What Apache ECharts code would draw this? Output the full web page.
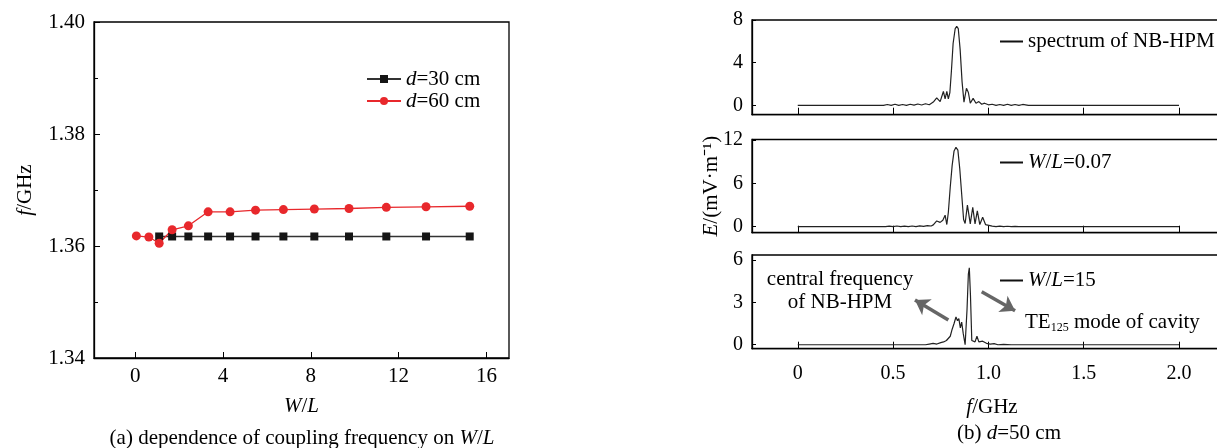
<!DOCTYPE html>
<html>
<head>
<meta charset="utf-8">
<script src="https://cdn.jsdelivr.net/npm/echarts@6/dist/echarts.min.js"></script>
<style>
  html, body { margin: 0; padding: 0; background: #fff; }
  #chart { width: 1217px; height: 448px; }
</style>
</head>
<body>
<div id="chart"></div>
<script>
//(a) coupling frequency vs W/L
var wl30 = [1.09, 1.68, 2.42, 3.32, 4.32, 5.48, 6.75, 8.16, 9.74, 11.44, 13.25, 15.24];
var freq30 = [1.3617, 1.3617, 1.3617, 1.3617, 1.3617, 1.3617, 1.3617, 1.3617, 1.3617, 1.3617, 1.3617, 1.3617];
var wl60 = [0.05, 0.62, 1.09, 1.68, 2.42, 3.32, 4.32, 5.48, 6.75, 8.16, 9.74, 11.44, 13.25, 15.24];
var freq60 = [1.3618, 1.3616, 1.3605, 1.3629, 1.3636, 1.3661, 1.3661, 1.3664, 1.3665, 1.3666, 1.3667, 1.3669, 1.3670, 1.3671];

//(b) spectra, d=50 cm
var fSpec = [0, 0.45, 0.47, 0.49, 0.51, 0.53, 0.55, 0.57, 0.59, 0.61, 0.63, 0.65, 0.67, 0.69, 0.711, 0.729, 0.747, 0.764, 0.773, 0.782, 0.79,
    0.798, 0.806, 0.815, 0.826, 0.834, 0.842, 0.852, 0.862, 0.872, 0.885, 0.895, 0.905, 0.92, 0.935, 0.95, 0.965, 0.98, 1.0,
    1.02, 1.04, 1.06, 1.08, 1.10, 1.12, 1.14, 1.16, 1.18, 1.21, 2.0];
var eSpec = [0, 0, 0.08, 0, 0.1, 0, 0.08, 0, 0.1, 0.02, 0.12, 0.03, 0.15, 0.05, 0.3, 0.7, 0.35, 1.3, 0.6, 1.3, 0.6,
    1.2, 3.2, 5.8, 7.2, 7.4, 7.2, 5.2, 2.2, 0.3, 1.6, 1.2, 0.2, 0.65, 0.2, 0.35, 0.1, 0.2, 0.05,
    0.1, 0, 0.08, 0, 0.1, 0, 0.08, 0, 0.08, 0, 0];

var f007 = [0, 0.46, 0.48, 0.50, 0.52, 0.54, 0.56, 0.58, 0.60, 0.62, 0.64, 0.66, 0.68, 0.70, 0.711, 0.729, 0.747, 0.761, 0.773, 0.782, 0.79,
    0.80, 0.81, 0.82, 0.83, 0.84, 0.85, 0.86, 0.87, 0.878, 0.89, 0.905, 0.918, 0.93, 0.942, 0.955, 0.97, 0.985, 0.995,
    1.02, 1.04, 1.06, 1.08, 1.10, 1.12, 1.14, 1.16, 1.20, 2.0];
var e007 = [0, 0, 0.08, 0, 0.1, 0, 0.08, 0.02, 0.1, 0, 0.12, 0.05, 0.15, 0.1, 0.25, 0.8, 0.6, 0.9, 1.6, 0.3, 2.0,
    5.5, 8.5, 10.5, 11.0, 10.6, 8.0, 4.5, 1.0, 0.45, 3.0, 0.4, 2.7, 0.4, 2.2, 0.3, 1.3, 0.3, 0.1,
    0.08, 0, 0.08, 0, 0.06, 0, 0.05, 0, 0, 0];

var f15 = [0, 0.67, 0.69, 0.71, 0.73, 0.75, 0.765, 0.78, 0.79, 0.80, 0.81, 0.82, 0.83, 0.838, 0.845, 0.853, 0.86, 0.868, 0.878,
    0.888, 0.895, 0.90, 0.906, 0.913, 0.92, 0.93, 0.94, 0.95, 0.97, 0.99, 1.01, 1.03, 1.05, 1.08, 1.12, 2.0];
var e15 = [0, 0, 0.05, 0.1, 0.05, 0.15, 0.2, 0.3, 0.4, 0.6, 1.1, 1.5, 1.96, 1.7, 1.85, 1.2, 1.6, 0.8, 0,
    2.5, 5.0, 5.44, 3.5, 0.3, 0.4, 0.2, 0.6, 0.2, 0.25, 0.1, 0.05, 0.08, 0, 0.03, 0, 0];

var xTicksA = [0, 4, 8, 12, 16];
var xTicksB = [0, 0.5, 1.0, 1.5, 2.0];
var yTicks1 = [0, 4, 8];
var yTicks2 = [0, 6, 12];
var yTicks3 = [0, 3, 6];

var chart = echarts.init(document.getElementById('chart'));
var FONT = 'Liberation Serif';
var italic = { fontFamily: FONT, fontStyle: 'italic', fontSize: 21, color: '#000' };

function zip(a, b) {
    return a.map(function (v, i) { return [v, b[i]]; });
}

function panelX(idx, last) {
    return {
        type: 'value', gridIndex: idx, min: -0.24, max: 2.278,
        axisLine: { onZero: false, lineStyle: { color: '#000', width: 1.3 } },
        axisTick: { show: true, inside: true, length: 7, customValues: xTicksB, lineStyle: { color: '#000' } },
        axisLabel: {
            show: last, customValues: xTicksB, margin: 15,
            fontFamily: FONT, fontSize: 20, color: '#000',
            formatter: function (v) { return v === 0 ? '0' : v.toFixed(1); }
        },
        splitLine: { show: false },
        name: last ? '{i|f}/GHz' : '',
        nameLocation: 'middle', nameGap: 48,
        nameTextStyle: { fontFamily: FONT, fontSize: 21, color: '#000', rich: { i: italic } }
    };
}

function panelY(idx, min, max, ticks, name) {
    return {
        type: 'value', gridIndex: idx, min: min, max: max,
        axisLine: { show: true, onZero: false, lineStyle: { color: '#000', width: 1.3 } },
        axisTick: { show: true, inside: true, length: 4, customValues: ticks, lineStyle: { color: '#000' } },
        axisLabel: { customValues: ticks, margin: 9, fontFamily: FONT, fontSize: 20, color: '#000' },
        splitLine: { show: false },
        name: name || '',
        nameLocation: 'middle', nameGap: 30, nameRotate: 90, nameMoveOverlap: false,
        nameTextStyle: { fontFamily: FONT, fontSize: 21, color: '#000', rich: { i: italic } }
    };
}

function panelLegend(name, top, label) {
    return {
        data: [name], left: 995, top: top, itemWidth: 23, itemHeight: 2,
        icon: 'rect', itemStyle: { color: '#111' },
        formatter: function () { return label; },
        textStyle: { fontFamily: FONT, fontSize: 21, color: '#000', rich: { i: italic, n: { fontFamily: FONT, fontSize: 21, color: '#000' } } }
    };
}

function gridBox(top, height, left, width) {
    return {
        left: left, top: top, width: width, height: height, outerBoundsMode: 'none',
        show: true, borderColor: '#000', borderWidth: 1.3, backgroundColor: 'transparent'
    };
}

var option = {
    animation: false,
    backgroundColor: '#fff',
    grid: [
        gridBox(22, 336, 94, 415),
        gridBox(20, 94.7, 752, 480),
        gridBox(139.5, 93.2, 752, 480),
        gridBox(255, 93.7, 752, 480)
    ],
    xAxis: [
        {
            type: 'value', gridIndex: 0, min: -1.88, max: 17.03,
            axisLine: { onZero: false, lineStyle: { color: '#000', width: 1.3 } },
            axisTick: { inside: true, length: 6, customValues: xTicksA, lineStyle: { color: '#000' } },
            axisLabel: { customValues: xTicksA, margin: 8, fontFamily: FONT, fontSize: 21, color: '#000' },
            splitLine: { show: false },
            name: '{i|W}/{i|L}', nameLocation: 'middle', nameGap: 38,
            nameTextStyle: { fontFamily: FONT, fontSize: 21, color: '#000', rich: { i: italic } }
        },
        panelX(1, false),
        panelX(2, false),
        panelX(3, true)
    ],
    yAxis: [
        {
            type: 'value', gridIndex: 0, min: 1.34, max: 1.40, interval: 0.02,
            axisLine: { show: true, onZero: false, lineStyle: { color: '#000', width: 1.3 } },
            axisTick: { show: true, inside: true, length: 6, lineStyle: { color: '#000' } },
            minorTick: { show: true, splitNumber: 2, length: 4, lineStyle: { color: '#000' } },
            axisLabel: { margin: 9, fontFamily: FONT, fontSize: 21, color: '#000', formatter: function (v) { return v.toFixed(2); } },
            splitLine: { show: false },
            name: '{i|f}/GHz', nameLocation: 'middle', nameGap: 58, nameRotate: 90,
            nameTextStyle: { fontFamily: FONT, fontSize: 21, color: '#000', rich: { i: italic } }
        },
        panelY(1, -0.88, 8, yTicks1),
        panelY(2, -0.83, 12.08, yTicks2, '{i|E}/(mV·m⁻¹)'),
        panelY(3, -0.28, 6.35, yTicks3)
    ],
    legend: [
        {
            data: ['d=30 cm', 'd=60 cm'], orient: 'vertical', left: 361, top: 63,
            itemWidth: 34, itemHeight: 10, itemGap: 0,
            formatter: function (n) { return '{i|d}' + n.slice(1); },
            textStyle: { fontFamily: FONT, fontSize: 21, color: '#000', lineHeight: 22, rich: { i: italic } }
        },
        panelLegend('spectrum of NB-HPM', 26, 'spectrum of NB-HPM'),
        panelLegend('W/L=0.07', 147, '{i|W}/{i|L}=0.07'),
        panelLegend('W/L=15', 265, '{i|W}/{i|L}=15')
    ],
    series: [
        {
            name: 'd=30 cm', type: 'line', xAxisIndex: 0, yAxisIndex: 0,
            data: zip(wl30, freq30), symbol: 'rect', symbolSize: 8,
            itemStyle: { color: '#151515' }, lineStyle: { color: '#333', width: 1.3 }
        },
        {
            name: 'd=60 cm', type: 'line', xAxisIndex: 0, yAxisIndex: 0,
            data: zip(wl60, freq60), symbol: 'circle', symbolSize: 9,
            itemStyle: { color: '#e8282c' }, lineStyle: { color: '#e8282c', width: 1.3 }
        },
        {
            name: 'spectrum of NB-HPM', type: 'line', xAxisIndex: 1, yAxisIndex: 1,
            data: zip(fSpec, eSpec), symbol: 'none',
            itemStyle: { color: '#111' }, lineStyle: { color: '#222', width: 1.2 }
        },
        {
            name: 'W/L=0.07', type: 'line', xAxisIndex: 2, yAxisIndex: 2,
            data: zip(f007, e007), symbol: 'none',
            itemStyle: { color: '#111' }, lineStyle: { color: '#222', width: 1.2 }
        },
        {
            name: 'W/L=15', type: 'line', xAxisIndex: 3, yAxisIndex: 3,
            data: zip(f15, e15), symbol: 'none',
            itemStyle: { color: '#111' }, lineStyle: { color: '#222', width: 1.2 },
            markLine: {
                silent: true, symbol: ['none', 'arrow'], symbolSize: 14,
                lineStyle: { color: '#666', width: 3.5, type: 'solid' },
                label: { show: false },
                data: [
                    [{ coord: [0.79, 1.75] }, { coord: [0.615, 3.17] }],
                    [{ coord: [0.965, 3.75] }, { coord: [1.14, 2.41] }]
                ]
            }
        }
    ],
    graphic: [
        {
            type: 'text', x: 840, y: 291,
            style: {
                text: 'central frequency\nof NB-HPM', font: '21px "Liberation Serif"',
                textAlign: 'center', textVerticalAlign: 'middle', lineHeight: 23.5, fill: '#000'
            }
        },
        {
            type: 'text', x: 1025, y: 322,
            style: {
                text: '{n|TE}{s|125}{n| mode of cavity}', textVerticalAlign: 'middle',
                rich: {
                    n: { fontFamily: FONT, fontSize: 21, color: '#000', lineHeight: 24 },
                    s: { fontFamily: FONT, fontSize: 12, color: '#000', verticalAlign: 'bottom', lineHeight: 14 }
                }
            }
        },
        {
            type: 'text', x: 302, y: 438,
            style: {
                text: '{n|(a) dependence of coupling frequency on }{i|W}{n|/}{i|L}',
                textAlign: 'center', textVerticalAlign: 'middle',
                rich: { n: { fontFamily: FONT, fontSize: 21, color: '#000' }, i: italic }
            }
        },
        {
            type: 'text', x: 1009, y: 433,
            style: {
                text: '{n|(b) }{i|d}{n|=50 cm}',
                textAlign: 'center', textVerticalAlign: 'middle',
                rich: { n: { fontFamily: FONT, fontSize: 21, color: '#000' }, i: italic }
            }
        }
    ]
};

chart.setOption(option);
</script>
</body>
</html>
